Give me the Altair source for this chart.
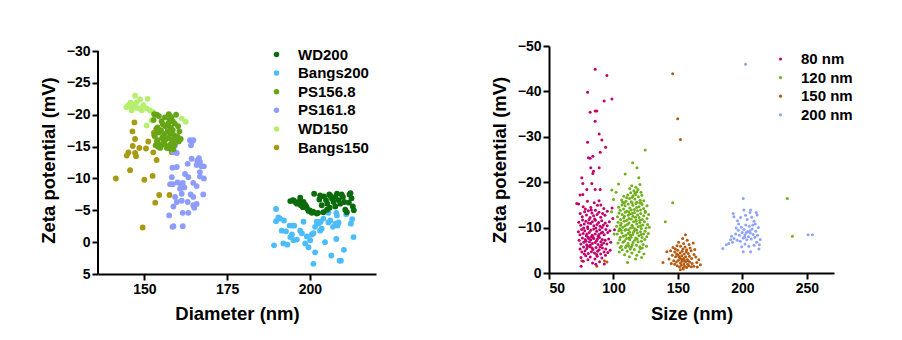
import altair as alt
import pandas as pd

FONT = "Liberation Sans"

# ---------------- Left panel data ----------------
left_series = ["WD200", "Bangs200", "PS156.8", "PS161.8", "WD150", "Bangs150"]
left_colors = ["#0b6b0b", "#4cbcfb", "#66a516", "#8e9cfb", "#b6ee6e", "#a89a12"]
left_y_ticks = [-30, -25, -20, -15, -10, -5, 0, 5]
left_x_ticks = [150, 175, 200]

wd200_x = [194.1, 194.9, 195.6, 196.1, 196.6, 197.1, 197.3, 198.1, 198.6, 197.9, 199.6, 200.6,
           201.3, 202.1, 202.9, 203.6, 204.1, 204.3, 204.9, 205.3, 205.9, 206.7, 207.2, 207.7,
           208.2, 208.7, 209.2, 210.0, 210.4, 210.7, 211.2, 205.2, 203.1, 207.7, 212.0, 212.6,
           213.0, 213.3, 212.3, 211.8, 195.2, 196.9, 198.9, 199.2, 200.0, 201.0, 202.5, 206.2,
           209.6, 206.0]
wd200_y = [-6.45, -6.6, -6.3, -6.05, -6.2, -7.0, -5.8, -6.3, -5.9, -5.5, -4.9, -4.6,
           -7.6, -4.5, -6.7, -5.8, -4.7, -7.2, -6.6, -6.05, -7.5, -6.8, -6.3, -5.6,
           -7.6, -6.6, -6.05, -7.1, -6.3, -5.1, -4.7, -5.1, -7.35, -7.1, -7.5, -6.9,
           -5.6, -5.0, -7.7, -6.2, -6.5, -6.4, -5.6, -5.3, -5.0, -4.8, -4.6, -7.3,
           -7.5, -5.4]

bangs200_x = [189.8, 189.2, 190.5, 189.8, 191.0, 192.2, 191.5, 192.8, 192.0, 193.2, 194.1, 194.6,
              194.9, 195.3, 195.1, 197.6, 198.1, 198.6, 199.6, 200.1, 199.1, 200.6, 201.1, 201.6,
              202.1, 202.6, 203.1, 201.6, 201.1, 203.3, 204.1, 204.6, 205.6, 206.2, 206.5, 207.0,
              207.7, 208.0, 208.2, 208.4, 208.7, 208.0, 209.0, 209.4, 213.2, 205.6, 203.6, 196.1,
              193.9, 197.1, 211.0, 212.4, 210.3, 212.8]
bangs200_y = [-5.2, 0.5, -3.9, -3.3, -3.7, -3.4, -1.8, -1.7, 0.2, 0.4, -0.8, -1.2,
              -2.6, -2.6, -0.3, -1.4, -3.2, 0.2, 0.8, -0.3, -0.9, -1.2, -1.4, -2.4,
              -3.2, -2.9, -1.8, 1.6, 3.4, -3.2, -3.7, 0.0, -3.1, -3.4, 2.1, -2.4,
              -2.9, -4.6, -4.2, -2.6, -3.1, -0.5, 2.9, 2.9, -0.8, -4.6, -2.1, -0.4,
              -2.6, -1.8, -4.4, -2.9, 1.2, -3.6]

ps1568_x = [153.0, 153.8, 154.4, 157.4, 159.6, 158.2, 157.6, 155.2, 154.0, 155.6, 156.4, 157.2,
            158.0, 158.6, 157.0, 156.0, 155.0, 154.4, 153.6, 159.2, 160.2, 157.8, 159.0, 155.4,
            156.6, 154.0, 157.4, 158.4, 160.0, 160.6, 153.0, 153.4, 154.2, 155.2, 156.2, 157.0,
            158.0, 159.0, 160.4, 155.8, 154.8, 157.6, 156.8, 158.8, 153.8, 159.6, 161.0, 156.2,
            157.8, 158.6, 152.8]
ps1568_y = [-20.1, -20.0, -19.8, -20.1, -20.0, -19.5, -19.2, -19.0, -18.0, -18.5, -18.2, -18.6,
            -18.0, -17.6, -17.4, -17.0, -17.6, -17.2, -17.8, -18.6, -18.2, -17.0, -16.8, -16.4,
            -16.2, -16.0, -16.4, -16.0, -16.6, -17.4, -16.8, -15.2, -15.0, -15.2, -15.4, -15.0,
            -15.4, -15.2, -15.8, -15.8, -14.8, -14.7, -14.8, -14.6, -15.8, -16.0, -16.2, -19.6,
            -19.8, -19.0, -19.2]

ps1618_x = [158.1, 159.3, 158.8, 159.8, 163.8, 164.6, 164.1, 164.8, 158.5, 159.8, 158.3, 158.6,
            157.8, 160.0, 160.8, 161.6, 162.3, 163.1, 164.3, 166.0, 166.5, 166.8, 165.8, 167.3,
            168.0, 163.3, 164.8, 165.8, 166.8, 168.0, 166.8, 161.3, 161.3, 159.8, 158.8, 159.3,
            163.1, 164.0, 165.8, 165.1, 164.8, 167.8, 157.5, 161.6, 163.3, 158.8, 158.5, 161.6,
            164.8, 162.1, 160.8]
ps1618_y = [-14.8, -15.2, -14.1, -14.0, -16.0, -15.9, -15.2, -16.0, -11.7, -11.8, -10.2, -9.1,
            -9.1, -9.4, -9.2, -9.3, -10.7, -12.3, -13.1, -12.8, -13.2, -12.6, -12.1, -11.9,
            -11.9, -10.2, -9.3, -8.8, -11.0, -10.0, -10.3, -7.6, -6.5, -6.3, -5.6, -7.1,
            -6.3, -7.5, -6.0, -5.4, -5.8, -7.5, -4.2, -4.6, -4.6, -2.5, -2.4, -2.5,
            -7.1, -8.6, -8.4]

wd150_x = [147.2, 145.2, 146.0, 146.7, 147.7, 148.7, 151.0, 149.7, 150.7, 151.7, 152.7, 153.8,
           152.2, 150.7, 161.3, 162.5, 148.5, 149.2, 146.2, 147.7, 144.6, 145.8]
wd150_y = [-23.0, -21.5, -21.2, -21.6, -22.0, -22.4, -22.5, -21.5, -21.0, -20.7, -20.4, -19.9,
           -19.1, -18.3, -19.4, -18.9, -21.0, -20.7, -20.7, -21.1, -21.2, -21.9]

bangs150_x = [147.0, 146.4, 147.2, 146.5, 148.5, 145.2, 144.7, 147.2, 147.5, 145.7, 141.4, 150.0,
              152.5, 151.2, 153.2, 152.9, 153.7, 152.7, 153.3, 154.5, 157.6, 149.5, 158.3, 154.5,
              150.5]
bangs150_y = [-18.8, -17.4, -16.2, -15.1, -14.8, -14.1, -13.6, -14.0, -13.5, -11.3, -10.0, -9.8,
              -10.4, -15.8, -16.6, -17.2, -12.9, -14.1, -6.2, -7.4, -7.4, -2.3, -14.1, -15.3,
              -14.7]

# ---------------- Right panel data ----------------
right_series = ["80 nm", "120 nm", "150 nm", "200 nm"]
right_colors = ["#c2006c", "#70b01a", "#b65a12", "#8fa2fc"]
right_y_ticks = [-50, -40, -30, -20, -10, 0]
right_x_ticks = [50, 100, 150, 200, 250]

nm80_x = [85.8, 94.9, 79.9, 92.8, 98.8, 81.9, 85.8, 87.1, 85.8, 88.9, 79.9, 91.0, 93.9, 89.7,
          80.6, 84.0, 81.9, 82.4, 88.9, 84.5, 84.0, 75.4, 76.2, 83.2, 89.7, 85.8, 74.1, 76.2,
          79.3, 71.5, 99.5, 100.8, 98.9,
          73.0, 76.5, 79.8, 82.4, 85.1, 87.6, 90.2, 92.5, 78.2, 88.8,
          74.2, 75.8, 77.6, 79.1, 80.5, 81.9, 83.3, 84.6, 86.0, 87.3, 88.7, 90.1, 91.6, 93.4,
          95.2, 82.8,
          73.1, 74.6, 76.0, 77.3, 78.6, 79.9, 81.1, 82.3, 83.6, 84.8, 86.0, 87.2, 88.5, 89.7,
          90.9, 92.2, 93.6, 95.1, 96.8, 80.6, 85.4, 91.2,
          72.8, 74.0, 75.3, 76.5, 77.7, 78.9, 80.1, 81.2, 82.4, 83.5, 84.7, 85.8, 87.0, 88.1,
          89.3, 90.4, 91.6, 92.8, 94.1, 95.5, 97.2, 79.4, 86.4, 82.9, 88.7, 76.9,
          73.4, 74.7, 75.9, 77.0, 78.1, 79.2, 80.3, 81.4, 82.5, 83.6, 84.7, 85.8, 86.9, 88.0,
          89.1, 90.2, 91.3, 92.4, 93.6, 94.9, 96.3, 97.8, 78.7, 81.9, 84.1, 87.5, 90.8, 80.8,
          74.1, 75.5, 76.8, 78.0, 79.3, 80.5, 81.7, 82.9, 84.1, 85.3, 86.5, 87.7, 88.9, 90.1,
          91.4, 92.7, 94.0, 95.6, 97.4, 79.9, 83.4, 86.9, 89.6, 77.4,
          74.8, 76.6, 78.5, 80.2, 82.0, 83.8, 85.6, 87.4, 89.2, 91.0, 92.9, 74.9, 86.3, 93.8]
nm80_y = [-44.9, -43.5, -39.8, -37.9, -38.3, -35.4, -35.7, -35.7, -33.4, -30.6, -28.8, -29.3,
          -27.7, -26.6, -25.4, -25.7, -25.3, -23.2, -23.2, -22.4, -21.9, -21.0, -19.7, -19.7,
          -18.4, -18.4, -17.2, -17.3, -18.4, -15.3, -12.0, -9.5, -14.3,
          -15.2, -14.6, -15.8, -14.4, -15.5, -14.9, -15.0, -14.2, -14.1, -15.9,
          -13.1, -12.4, -13.5, -12.8, -13.7, -12.2, -13.2, -12.6, -13.8, -12.9, -13.4, -12.3,
          -13.1, -12.7, -13.6, -13.9,
          -11.2, -10.5, -11.7, -10.8, -11.4, -10.2, -11.8, -10.9, -11.3, -10.4, -11.6, -10.7,
          -11.1, -10.3, -11.5, -10.6, -11.0, -10.4, -11.3, -11.0, -11.9, -10.0,
          -9.1, -8.4, -9.6, -8.7, -9.3, -8.2, -9.8, -8.9, -9.4, -8.3, -9.7, -8.6, -9.2, -8.1,
          -9.5, -8.8, -9.0, -8.4, -9.6, -8.9, -9.3, -8.6, -9.9, -8.0, -8.5, -9.9,
          -7.2, -6.4, -7.7, -6.8, -7.4, -6.2, -7.9, -6.9, -7.3, -6.5, -7.6, -6.7, -7.1, -6.3,
          -7.8, -6.9, -7.4, -6.6, -7.2, -6.4, -7.5, -6.8, -7.0, -6.1, -7.9, -7.5, -6.2, -7.6,
          -5.3, -4.6, -5.7, -4.9, -5.4, -4.3, -5.8, -4.7, -5.2, -4.4, -5.6, -4.8, -5.1, -4.2,
          -5.5, -4.6, -5.3, -4.5, -5.0, -5.9, -5.5, -4.1, -5.8, -4.2,
          -3.4, -2.6, -3.8, -2.9, -3.5, -2.2, -3.1, -3.7, -2.5, -3.3, -2.0, -1.5, -1.9, -3.9]

nm120_x = [124.6, 114.8, 118.2, 109.1, 103.9, 98.7, 98.5, 100.5, 110.9, 140.2, 145.9, 234.8,
           238.7, 102.0, 100.0, 119.6,
           112.6, 114.2, 115.8, 117.4, 119.0, 120.5, 113.4, 116.6, 118.2, 121.3,
           106.3, 108.0, 109.6, 111.1, 112.5, 113.9, 115.2, 116.6, 118.0, 119.3, 120.7, 122.0,
           123.5, 110.3, 114.6, 117.3, 121.4, 107.2,
           104.0, 105.3, 106.6, 107.8, 109.0, 110.2, 111.4, 112.6, 113.8, 115.0, 116.2, 117.4,
           118.6, 119.8, 121.0, 122.2, 123.4, 124.7, 126.0, 108.4, 111.9, 114.4, 117.9, 120.4,
           103.1, 104.3, 105.5, 106.7, 107.9, 109.1, 110.3, 111.5, 112.7, 113.9, 115.1, 116.3,
           117.5, 118.7, 119.9, 121.1, 122.3, 123.5, 124.7, 126.0, 127.2, 108.5, 112.1, 114.5,
           117.0, 120.5,
           102.4, 103.6, 104.8, 106.0, 107.2, 108.4, 109.6, 110.8, 112.0, 113.2, 114.4, 115.6,
           116.8, 118.0, 119.2, 120.4, 121.6, 122.8, 124.0, 125.2, 126.5, 127.8, 105.4, 109.0,
           111.6, 115.0, 117.6, 121.0,
           102.9, 104.1, 105.3, 106.5, 107.7, 108.9, 110.1, 111.3, 112.5, 113.7, 114.9, 116.1,
           117.3, 118.5, 119.7, 120.9, 122.1, 123.3, 124.5, 125.8, 127.0, 106.0, 109.5, 112.0,
           115.4, 118.0, 121.5, 113.1,
           103.5, 104.8, 106.1, 107.4, 108.7, 110.0, 111.3, 112.6, 113.9, 115.2, 116.5, 117.8,
           119.1, 120.4, 121.7, 123.0, 124.3, 125.6, 109.3, 114.5, 118.4, 122.4, 105.2, 111.9,
           104.5, 106.8, 108.6, 110.7, 112.4, 114.3, 116.2, 118.1, 119.9, 121.8, 123.6, 117.2,
           113.0, 120.8]
nm120_y = [-27.1, -24.3, -23.2, -21.8, -19.6, -18.3, -13.5, -8.6, -2.3, -11.3, -15.5, -16.4,
           -8.1, -17.8, -16.2, -21.0,
           -18.6, -19.2, -18.1, -18.9, -18.4, -19.5, -17.7, -17.6, -17.9, -17.8,
           -16.1, -16.9, -15.8, -17.2, -16.4, -15.7, -17.0, -16.3, -15.6, -16.8, -16.0, -17.1,
           -15.9, -16.6, -16.7, -17.3, -15.5, -15.6,
           -14.5, -13.8, -15.0, -14.1, -14.8, -13.6, -15.2, -14.3, -13.9, -14.9, -14.0, -15.3,
           -13.7, -14.6, -13.9, -15.1, -14.2, -13.6, -14.8, -15.4, -13.5, -15.5, -14.4, -15.4,
           -12.4, -13.2, -11.8, -12.9, -12.1, -13.4, -11.6, -12.7, -13.0, -11.9, -12.5, -13.3,
           -11.7, -12.8, -12.2, -13.1, -11.8, -12.6, -13.3, -12.0, -12.9, -12.5, -12.0, -13.1,
           -12.3, -11.6,
           -10.3, -11.2, -9.8, -10.9, -10.1, -11.4, -9.6, -10.7, -11.0, -9.9, -10.5, -11.3,
           -9.7, -10.8, -10.2, -11.1, -9.8, -10.6, -11.3, -9.9, -10.7, -10.1, -10.5, -10.4,
           -9.5, -10.1, -11.4, -10.4,
           -8.6, -9.3, -7.9, -8.8, -8.1, -9.4, -7.6, -8.7, -9.0, -7.9, -8.5, -9.3,
           -7.7, -8.8, -8.2, -9.1, -7.8, -8.6, -9.2, -8.0, -8.7, -9.4, -8.3, -7.7,
           -8.9, -9.4, -8.5, -8.3,
           -6.6, -7.3, -5.9, -6.8, -7.1, -6.0, -6.5, -7.4, -5.7, -6.7, -7.2, -6.1,
           -6.9, -5.8, -7.0, -6.3, -7.4, -5.9, -5.6, -6.2, -7.5, -5.5, -5.6, -5.9,
           -4.6, -5.1, -4.0, -4.8, -3.6, -4.4, -5.2, -3.9, -4.7, -3.4, -4.2, -3.1,
           -5.3, -5.4]

nm150_x = [145.9, 149.8, 151.9, 75.4, 87.1, 93.0, 94.9,
           155.8, 153.6, 157.2, 150.5, 154.4, 158.6, 161.8, 149.3, 146.2, 152.0, 155.5, 159.4,
           163.0, 141.4, 144.3, 147.5, 149.8, 151.6, 153.2, 154.8, 156.4, 158.0, 160.2, 162.5,
           145.6, 148.2, 150.1, 151.7, 153.0, 154.4, 155.9, 157.3, 158.9, 160.6, 163.8, 166.2,
           143.1, 138.4, 146.7, 148.8, 150.4, 151.9, 153.3, 154.6, 156.0, 157.5, 159.1, 161.0,
           164.6, 167.4, 149.4, 151.2, 152.6, 153.9, 155.2, 156.7, 158.3, 160.3, 151.9, 154.1,
           147.4, 144.8, 162.3, 165.0, 152.8, 155.0, 150.9, 157.9, 149.0, 156.8, 153.8, 148.0]
nm150_y = [-43.9, -34.0, -29.4, -2.7, -1.5, -2.7, -2.4,
           -8.4, -7.6, -7.2, -6.8, -6.5, -6.3, -6.6, -6.0, -5.6, -5.9, -5.7, -5.5,
           -5.2, -4.7, -4.9, -4.6, -5.0, -4.4, -4.8, -4.2, -4.7, -4.3, -4.9, -4.1,
           -3.9, -3.6, -3.9, -3.3, -3.8, -3.2, -3.6, -3.0, -3.7, -3.2, -3.5, -2.9,
           -3.1, -2.3, -2.7, -2.4, -2.8, -2.2, -2.6, -2.0, -2.5, -1.9, -2.4, -2.1,
           -2.3, -1.8, -1.6, -1.3, -1.7, -1.1, -1.5, -1.2, -1.6, -1.4, -0.7, -0.9,
           -1.9, -2.1, -1.5, -1.3, -3.0, -2.8, -3.5, -2.7, -4.2, -5.1, -5.3, -5.3]

nm200_x = [202.4, 200.6, 250.9, 254.3,
           184.8, 187.5, 189.4, 190.8, 192.3, 191.6, 193.5, 194.7, 195.9, 196.8, 197.6, 198.3,
           199.1, 199.8, 200.5, 201.2, 201.9, 202.6, 203.3, 204.0, 204.7, 205.4, 206.1, 206.8,
           207.5, 208.2, 208.9, 209.6, 210.3, 211.0, 211.7, 212.4, 213.1, 213.8, 192.8, 193.4,
           201.1, 206.3, 205.8, 210.7, 211.4, 200.6, 206.3, 212.8, 196.2, 198.6, 203.7, 207.2,
           202.0, 204.9, 209.0, 199.5, 197.0, 203.0, 205.8, 201.6, 208.0, 195.1, 210.0, 202.4]
nm200_y = [-46.0, -16.4, -8.4, -8.4,
           -5.4, -6.2, -6.5, -7.3, -6.8, -8.1, -7.6, -8.6, -7.2, -9.4, -8.3, -7.0,
           -10.1, -8.9, -7.7, -9.6, -8.4, -10.6, -7.3, -9.1, -8.0, -10.3, -8.8, -7.5,
           -9.7, -8.5, -11.4, -7.9, -9.2, -6.8, -8.3, -10.0, -6.2, -7.4, -13.1, -12.4,
           -13.9, -13.9, -13.3, -13.3, -12.8, -4.7, -4.7, -5.3, -11.5, -12.2, -11.8, -12.3,
           -6.4, -5.9, -6.1, -5.8, -10.8, -8.9, -9.3, -7.9, -10.6, -9.9, -10.8, -12.7]


def frame(xs, ys, name, order):
    return pd.DataFrame({"x": xs, "y": ys, "series": name, "order": order})


# drawing order for the left panel
left_df = pd.concat([
    frame(bangs150_x, bangs150_y, "Bangs150", 0),
    frame(wd150_x, wd150_y, "WD150", 1),
    frame(ps1618_x, ps1618_y, "PS161.8", 2),
    frame(ps1568_x, ps1568_y, "PS156.8", 3),
    frame(bangs200_x, bangs200_y, "Bangs200", 4),
    frame(wd200_x, wd200_y, "WD200", 5),
], ignore_index=True)

right_df = pd.concat([
    frame(nm200_x, nm200_y, "200 nm", 0),
    frame(nm150_x, nm150_y, "150 nm", 1),
    frame(nm120_x, nm120_y, "120 nm", 2),
    frame(nm80_x, nm80_y, "80 nm", 3),
], ignore_index=True)

axis_common = dict(
    domainColor="black", domainWidth=2, tickColor="black", tickWidth=2, tickSize=6,
    labelFont=FONT, labelFontSize=14, labelFontWeight="bold", labelColor="black", labelPadding=2,
    labelOverlap=False,
    titleFont=FONT, titleFontSize=18.5, titleFontWeight="bold", titleColor="black", grid=False,
)

# Left panel: plot area is a little taller than the axis so the -30 tick sits lower;
# the y axis line is drawn as a rule from -30 to 5.
L_XDOM = [136, 220]
L_YDOM = [-30.8, 5]
lx_scale = alt.Scale(domain=L_XDOM, nice=False, zero=False)
ly_scale = alt.Scale(domain=L_YDOM, nice=False, zero=False, reverse=True)
lx_axis = alt.Axis(values=left_x_ticks, title="Diameter (nm)", titlePadding=8, **axis_common)
ly_axis = alt.Axis(values=left_y_ticks, title="Zeta potential (mV)", titlePadding=8,
                   domain=False, **axis_common)

left_points = alt.Chart(left_df).mark_circle(size=34, opacity=1).encode(
    x=alt.X("x:Q", scale=lx_scale, axis=lx_axis),
    y=alt.Y("y:Q", scale=ly_scale, axis=ly_axis),
    color=alt.Color("series:N", scale=alt.Scale(domain=left_series, range=left_colors),
                    legend=alt.Legend(orient="none", legendX=171, legendY=1, title=None,
                                      symbolType="circle", symbolSize=30, symbolStrokeWidth=0,
                                      labelFont=FONT, labelFontSize=15, labelFontWeight="bold",
                                      labelColor="black", labelOffset=14, rowPadding=2.6)),
    order=alt.Order("order:Q"),
)

left_axis_line = alt.Chart(left_df).mark_rule(color="black", strokeWidth=2).encode(
    x=alt.XDatum(L_XDOM[0], scale=lx_scale, axis=lx_axis),
    y=alt.YDatum(left_y_ticks[0], scale=ly_scale, axis=ly_axis),
    y2=alt.Y2Datum(left_y_ticks[-1]),
)

left = alt.layer(left_points, left_axis_line).properties(width=278, height=228)

right = alt.Chart(right_df).mark_circle(size=9, opacity=1).encode(
    x=alt.X("x:Q", scale=alt.Scale(domain=[50, 271], nice=False, zero=False),
            axis=alt.Axis(values=right_x_ticks, title="Size (nm)", titlePadding=9, **axis_common)),
    y=alt.Y("y:Q", scale=alt.Scale(domain=[-50, 0], nice=False, zero=False, reverse=True),
            axis=alt.Axis(values=right_y_ticks, title="Zeta potential (mV)",
                          titlePadding=8, **axis_common)),
    color=alt.Color("series:N", scale=alt.Scale(domain=right_series, range=right_colors),
                    legend=alt.Legend(orient="none", legendX=224, legendY=5.5, title=None,
                                      symbolType="circle", symbolSize=10, symbolStrokeWidth=0,
                                      labelFont=FONT, labelFontSize=15, labelFontWeight="bold",
                                      labelColor="black", labelOffset=13, rowPadding=2.6)),
    order=alt.Order("order:Q"),
).properties(width=285, height=227)

chart = alt.hconcat(left, right, spacing=114).resolve_scale(color="independent").configure_view(
    stroke=None
).properties(padding={"left": 39, "top": 39, "right": 5, "bottom": 5}, background="white")

chart.save("out.html", embed_options={"renderer": "svg", "actions": False})
